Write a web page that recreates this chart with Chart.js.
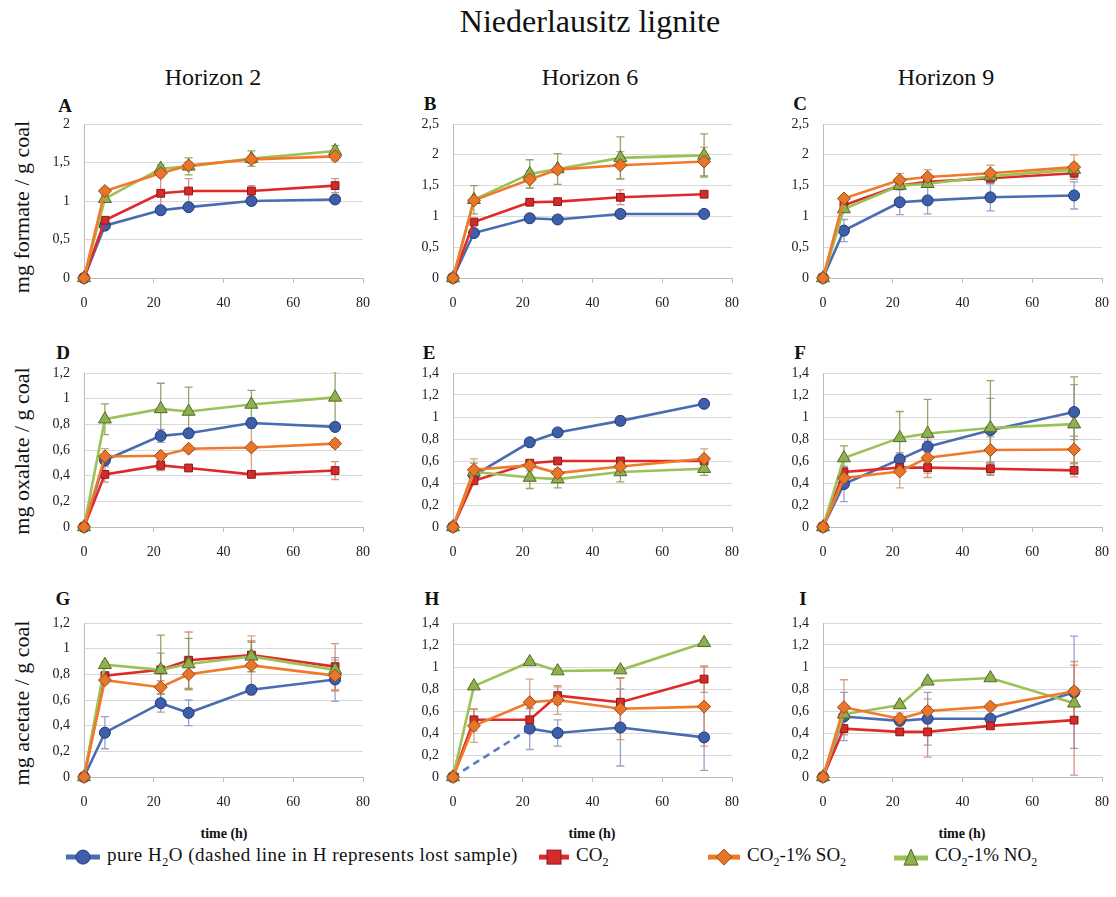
<!DOCTYPE html>
<html><head><meta charset="utf-8">
<script src="https://cdn.jsdelivr.net/npm/chart.js@4.4.0/dist/chart.umd.min.js"></script>
<style>
html,body{margin:0;padding:0;background:#fff;}
#root{position:relative;width:1116px;height:897px;overflow:hidden;font-family:"Liberation Serif",serif;color:#111;}
.t{position:absolute;white-space:nowrap;line-height:1;}
.c{transform:translate(-50%,-50%);}
.rot{transform:translate(-50%,-50%) rotate(-90deg);}
.letter{font-weight:bold;font-size:19px;}
.xt{font-size:14px;font-weight:bold;}
canvas{position:absolute;}
.leg{position:absolute;top:857px;transform:translateY(-50%);font-size:19px;white-space:nowrap;display:flex;align-items:center;}
.leg svg{margin-right:5px;}
.leg sub{font-size:12px;}
</style></head><body>
<div id="root">
  <div class="t c" style="left:590px;top:21px;font-size:32px;">Niederlausitz lignite</div>
  <div class="t c" style="left:213px;top:77px;font-size:24px;">Horizon 2</div>
  <div class="t c" style="left:590px;top:77px;font-size:24px;">Horizon 6</div>
  <div class="t c" style="left:946px;top:77px;font-size:24px;">Horizon 9</div>

  <div class="t rot" style="left:22px;top:207px;font-size:22px;">mg formate / g coal</div>
  <div class="t rot" style="left:22px;top:451px;font-size:22px;">mg oxalate / g coal</div>
  <div class="t rot" style="left:22px;top:703px;font-size:22px;">mg acetate / g coal</div>

  <div class="t c letter" style="left:65px;top:105px;">A</div>
  <div class="t c letter" style="left:430px;top:103px;">B</div>
  <div class="t c letter" style="left:800px;top:103px;">C</div>
  <div class="t c letter" style="left:63px;top:352px;">D</div>
  <div class="t c letter" style="left:429px;top:352px;">E</div>
  <div class="t c letter" style="left:800px;top:352px;">F</div>
  <div class="t c letter" style="left:63px;top:598px;">G</div>
  <div class="t c letter" style="left:432px;top:598px;">H</div>
  <div class="t c letter" style="left:803px;top:598px;">I</div>

  <div class="t c xt" style="left:224px;top:834px;">time (h)</div>
  <div class="t c xt" style="left:592px;top:834px;">time (h)</div>
  <div class="t c xt" style="left:962px;top:834px;">time (h)</div>

  <div class="leg" style="left:64px;"><svg width="38" height="20"><line x1="2" y1="10" x2="36" y2="10" stroke="#4a6cb3" stroke-width="5"/><circle cx="19" cy="10" r="7" fill="#3d5ea8" stroke="#233a73" stroke-width="1"/></svg><span style="letter-spacing:0.5px">pure H<sub>2</sub>O (dashed line in H represents lost sample)</span></div>
  <div class="leg" style="left:537px;"><svg width="34" height="20"><line x1="2" y1="10" x2="32" y2="10" stroke="#e02a2a" stroke-width="5"/><rect x="10" y="3" width="14" height="14" fill="#d42a2a" stroke="#8b1a1a" stroke-width="1"/></svg><span>CO<sub>2</sub></span></div>
  <div class="leg" style="left:706px;"><svg width="36" height="20"><line x1="2" y1="10" x2="34" y2="10" stroke="#f07a2a" stroke-width="5"/><polygon points="18,2 26,10 18,18 10,10" fill="#e8762a" stroke="#9a4a16" stroke-width="1"/></svg><span>CO<sub>2</sub>-1% SO<sub>2</sub></span></div>
  <div class="leg" style="left:892px;"><svg width="38" height="20"><line x1="2" y1="11" x2="36" y2="11" stroke="#9bc157" stroke-width="5"/><polygon points="19,2 26,18 12,18" fill="#8fb04f" stroke="#4e6b26" stroke-width="1"/></svg><span>CO<sub>2</sub>-1% NO<sub>2</sub></span></div>
</div>
<script>
// ---------- data ----------
const times = [0, 6, 22, 30, 48, 72];

// A: formate, Horizon 2
const A_h2o = [0, 0.68, 0.88, 0.92, 1.00, 1.02];
const A_co2 = [0, 0.75, 1.10, 1.13, 1.13, 1.20];
const A_so2 = [0, 1.13, 1.36, 1.46, 1.54, 1.58];
const A_no2 = [0, 1.03, 1.42, 1.45, 1.55, 1.65];
const A_h2oErr = [0, 0.02, 0.03, 0.03, 0.03, 0.03];
const A_co2Err = [0, 0.03, 0.27, 0.16, 0.07, 0.09];
const A_so2Err = [0, 0.04, 0.05, 0.05, 0.05, 0.06];
const A_no2Err = [0, 0.04, 0.05, 0.11, 0.10, 0.07];

// B: formate, Horizon 6
const B_h2o = [0, 0.73, 0.97, 0.95, 1.04, 1.04];
const B_co2 = [0, 0.91, 1.23, 1.24, 1.31, 1.36];
const B_so2 = [0, 1.26, 1.60, 1.76, 1.83, 1.89];
const B_no2 = [0, 1.27, 1.69, 1.77, 1.95, 1.99];
const B_h2oErr = [0, 0.03, 0.05, 0.03, 0.03, 0.03];
const B_co2Err = [0, 0.03, 0.05, 0.04, 0.12, 0.04];
const B_so2Err = [0, 0.05, 0.14, 0.05, 0.22, 0.23];
const B_no2Err = [0, 0.23, 0.23, 0.25, 0.34, 0.35];

// C: formate, Horizon 9
const C_h2o = [0, 0.77, 1.23, 1.26, 1.31, 1.34];
const C_co2 = [0, 1.18, 1.50, 1.56, 1.62, 1.70];
const C_so2 = [0, 1.29, 1.59, 1.64, 1.70, 1.80];
const C_no2 = [0, 1.12, 1.50, 1.53, 1.65, 1.76];
const C_h2oErr = [0, 0.18, 0.20, 0.22, 0.22, 0.22];
const C_co2Err = [0, 0.05, 0.06, 0.06, 0.08, 0.10];
const C_so2Err = [0, 0.05, 0.11, 0.12, 0.13, 0.20];
const C_no2Err = [0, 0.05, 0.06, 0.06, 0.08, 0.10];

// D: oxalate, Horizon 2
const D_h2o = [0, 0.52, 0.71, 0.73, 0.81, 0.78];
const D_co2 = [0, 0.41, 0.48, 0.46, 0.41, 0.44];
const D_so2 = [0, 0.55, 0.555, 0.61, 0.62, 0.65];
const D_no2 = [0, 0.84, 0.92, 0.90, 0.955, 1.01];
const D_h2oErr = [0, 0.02, 0.05, 0.03, 0.04, 0.03];
const D_co2Err = [0, 0.06, 0.04, 0.02, 0.02, 0.07];
const D_so2Err = [0, 0.06, 0.02, 0.02, 0.20, 0.03];
const D_no2Err = [0, 0.12, 0.20, 0.19, 0.11, 0.20];

// E: oxalate, Horizon 6
const E_h2o = [0, 0.47, 0.77, 0.86, 0.965, 1.12];
const E_co2 = [0, 0.42, 0.58, 0.60, 0.60, 0.60];
const E_so2 = [0, 0.52, 0.56, 0.49, 0.55, 0.62];
const E_no2 = [0, 0.50, 0.45, 0.435, 0.50, 0.53];
const E_h2oErr = [0, 0.03, 0.03, 0.03, 0.04, 0.03];
const E_co2Err = [0, 0.03, 0.03, 0.02, 0.02, 0.02];
const E_so2Err = [0, 0.10, 0.05, 0.04, 0.04, 0.09];
const E_no2Err = [0, 0.08, 0.10, 0.08, 0.09, 0.06];

// F: oxalate, Horizon 9
const F_h2o = [0, 0.39, 0.615, 0.73, 0.88, 1.045];
const F_co2 = [0, 0.50, 0.54, 0.54, 0.53, 0.515];
const F_so2 = [0, 0.445, 0.505, 0.63, 0.70, 0.705];
const F_no2 = [0, 0.627, 0.81, 0.85, 0.90, 0.935];
const F_h2oErr = [0, 0.16, 0.06, 0.05, 0.29, 0.25];
const F_co2Err = [0, 0.04, 0.04, 0.05, 0.05, 0.06];
const F_so2Err = [0, 0.05, 0.15, 0.18, 0.12, 0.12];
const F_no2Err = [0, 0.11, 0.24, 0.31, 0.43, 0.43];

// G: acetate, Horizon 2
const G_h2o = [0, 0.345, 0.575, 0.50, 0.68, 0.76];
const G_co2 = [0, 0.79, 0.835, 0.91, 0.95, 0.86];
const G_so2 = [0, 0.755, 0.70, 0.80, 0.87, 0.79];
const G_no2 = [0, 0.875, 0.835, 0.88, 0.94, 0.835];
const G_h2oErr = [0, 0.125, 0.07, 0.10, 0.03, 0.17];
const G_co2Err = [0, 0.02, 0.13, 0.22, 0.10, 0.18];
const G_so2Err = [0, 0.03, 0.05, 0.11, 0.23, 0.12];
const G_no2Err = [0, 0.02, 0.27, 0.20, 0.12, 0.05];

// H: acetate, Horizon 6 (pure H2O sample at 6 h lost)
const H_h2o = [0, null, 0.44, 0.40, 0.45, 0.36];
const H_co2 = [0, 0.52, 0.52, 0.74, 0.68, 0.89];
const H_so2 = [0, 0.465, 0.68, 0.70, 0.62, 0.64];
const H_no2 = [0, 0.826, 1.046, 0.963, 0.972, 1.22];
const H_h2oErr = [0, 0, 0.19, 0.12, 0.35, 0.30];
const H_co2Err = [0, 0.10, 0.10, 0.08, 0.22, 0.12];
const H_so2Err = [0, 0.15, 0.21, 0.13, 0.28, 0.36];
const H_no2Err = [0, 0.02, 0.02, 0.02, 0.02, 0.02];

// I: acetate, Horizon 9
const I_h2o = [0, 0.55, 0.51, 0.53, 0.53, 0.77];
const I_co2 = [0, 0.44, 0.41, 0.41, 0.465, 0.517];
const I_so2 = [0, 0.634, 0.53, 0.60, 0.64, 0.78];
const I_no2 = [0, 0.57, 0.655, 0.87, 0.90, 0.67];
const I_h2oErr = [0, 0.22, 0.03, 0.24, 0.03, 0.51];
const I_co2Err = [0, 0.03, 0.03, 0.23, 0.03, 0.50];
const I_so2Err = [0, 0.25, 0.05, 0.11, 0.03, 0.27];
const I_no2Err = [0, 0.02, 0.02, 0.02, 0.02, 0.02];

const yMaxFormate = [2, 2.5, 2.5];
const yMaxOxalate = [1.2, 1.4, 1.4];
const yMaxAcetate = [1.2, 1.4, 1.4];
const xMax = 80, xStep = 20;

// ---------- styles ----------
const STYLE = {
  h2o: {line:'#4a6cb3', fill:'#3d5ea8', edge:'#233a73', err:'rgba(120,130,190,0.75)', shape:'circle', r:5.5, order:4},
  co2: {line:'#e02a2a', fill:'#d42a2a', edge:'#8b1a1a', err:'rgba(200,110,100,0.75)', shape:'rect', r:5.5, order:3},
  so2: {line:'#f07a2a', fill:'#e8762a', edge:'#9a4a16', err:'rgba(200,140,100,0.8)', shape:'rectRot', r:6.5, order:1},
  no2: {line:'#9bc157', fill:'#8fb04f', edge:'#4e6b26', err:'rgba(130,150,80,0.85)', shape:'triangle', r:7.5, order:2}
};

const errorBars = {
  id: 'errorBars',
  beforeDatasetsDraw(chart) {
    const {ctx, chartArea} = chart;
    const xs = chart.scales.x, ys = chart.scales.y;
    ctx.save();
    ctx.beginPath();
    ctx.rect(chartArea.left - 10, chartArea.top - 1, chartArea.right - chartArea.left + 20, chartArea.bottom - chartArea.top + 2);
    ctx.clip();
    chart.data.datasets.forEach(ds => {
      if (!ds.errors) return;
      ctx.strokeStyle = ds.errorColor;
      ctx.lineWidth = 1.3;
      ds.data.forEach((p, i) => {
        const e = ds.errors[i];
        if (p.y == null || !e) return;
        const x = xs.getPixelForValue(p.x);
        const y1 = ys.getPixelForValue(p.y + e);
        const y2 = ys.getPixelForValue(p.y - e);
        ctx.beginPath();
        ctx.moveTo(x, y1); ctx.lineTo(x, y2);
        ctx.moveTo(x - 4, y1); ctx.lineTo(x + 4, y1);
        ctx.moveTo(x - 4, y2); ctx.lineTo(x + 4, y2);
        ctx.stroke();
      });
    });
    ctx.restore();
  }
};

function makeDs(kind, vals, errs) {
  const s = STYLE[kind];
  // a segment that bridges a missing (lost) sample is drawn dashed
  const bridges = ctx => vals[ctx.p0DataIndex] == null || ctx.p1DataIndex - ctx.p0DataIndex > 1;
  return {
    data: times.map((t, i) => ({x: t, y: vals[i]})),
    errors: errs, errorColor: s.err,
    borderColor: s.line, backgroundColor: s.fill,
    pointBackgroundColor: s.fill, pointBorderColor: s.edge, pointBorderWidth: 1,
    pointStyle: s.shape, pointRadius: s.r, borderWidth: 2.6,
    order: s.order, spanGaps: true, tension: 0, clip: false,
    segment: {
      borderDash: ctx => (bridges(ctx) ? [7, 5] : undefined),
      borderColor: ctx => (bridges(ctx) ? '#5a7cc0' : undefined)
    }
  };
}

const fmt = v => String(Math.round(v * 10) / 10).replace('.', ',');
const root = document.getElementById('root');
const yW = 50, padT = 12, padR = 20, xH = 34;
const colLeft = [84, 453, 823], plotW = 279;
const rowTop = [124, 373, 623], plotH = 154;

function panel(col, row, yMax, sets) {
  const w = yW + plotW + padR, h = padT + plotH + xH;
  const c = document.createElement('canvas');
  c.width = w; c.height = h;
  c.style.left = (colLeft[col] - yW) + 'px';
  c.style.top = (rowTop[row] - padT) + 'px';
  c.style.width = w + 'px'; c.style.height = h + 'px';
  root.appendChild(c);
  new Chart(c, {
    type: 'line',
    data: {datasets: sets},
    plugins: [errorBars],
    options: {
      responsive: false, animation: false, devicePixelRatio: 1,
      layout: {padding: {top: padT, right: padR, left: 0, bottom: 0}},
      plugins: {legend: {display: false}, tooltip: {enabled: false}},
      scales: {
        x: {
          type: 'linear', min: 0, max: xMax,
          afterFit: s => { s.height = xH; s.paddingLeft = 0; s.paddingRight = 0; },
          ticks: {stepSize: xStep, font: {family: 'Liberation Serif', size: 14}, color: '#222', padding: 12, maxRotation: 0},
          grid: {drawOnChartArea: false, drawTicks: true, tickLength: 5, color: '#bdbdbd'},
          border: {display: true, color: '#bdbdbd'}
        },
        y: {
          min: 0, max: yMax,
          afterFit: s => { s.width = yW; s.paddingTop = 0; s.paddingBottom = 0; },
          ticks: {stepSize: yMax > 1.5 ? 0.5 : 0.2, callback: fmt, font: {family: 'Liberation Serif', size: 14}, color: '#222', padding: 14},
          grid: {color: '#d9d9d9', drawTicks: false},
          border: {display: true, color: '#bdbdbd'}
        }
      }
    }
  });
}

panel(0, 0, yMaxFormate[0], [makeDs('h2o', A_h2o, A_h2oErr), makeDs('co2', A_co2, A_co2Err), makeDs('so2', A_so2, A_so2Err), makeDs('no2', A_no2, A_no2Err)]);
panel(1, 0, yMaxFormate[1], [makeDs('h2o', B_h2o, B_h2oErr), makeDs('co2', B_co2, B_co2Err), makeDs('so2', B_so2, B_so2Err), makeDs('no2', B_no2, B_no2Err)]);
panel(2, 0, yMaxFormate[2], [makeDs('h2o', C_h2o, C_h2oErr), makeDs('co2', C_co2, C_co2Err), makeDs('so2', C_so2, C_so2Err), makeDs('no2', C_no2, C_no2Err)]);
panel(0, 1, yMaxOxalate[0], [makeDs('h2o', D_h2o, D_h2oErr), makeDs('co2', D_co2, D_co2Err), makeDs('so2', D_so2, D_so2Err), makeDs('no2', D_no2, D_no2Err)]);
panel(1, 1, yMaxOxalate[1], [makeDs('h2o', E_h2o, E_h2oErr), makeDs('co2', E_co2, E_co2Err), makeDs('so2', E_so2, E_so2Err), makeDs('no2', E_no2, E_no2Err)]);
panel(2, 1, yMaxOxalate[2], [makeDs('h2o', F_h2o, F_h2oErr), makeDs('co2', F_co2, F_co2Err), makeDs('so2', F_so2, F_so2Err), makeDs('no2', F_no2, F_no2Err)]);
panel(0, 2, yMaxAcetate[0], [makeDs('h2o', G_h2o, G_h2oErr), makeDs('co2', G_co2, G_co2Err), makeDs('so2', G_so2, G_so2Err), makeDs('no2', G_no2, G_no2Err)]);
panel(1, 2, yMaxAcetate[1], [makeDs('h2o', H_h2o, H_h2oErr), makeDs('co2', H_co2, H_co2Err), makeDs('so2', H_so2, H_so2Err), makeDs('no2', H_no2, H_no2Err)]);
panel(2, 2, yMaxAcetate[2], [makeDs('h2o', I_h2o, I_h2oErr), makeDs('co2', I_co2, I_co2Err), makeDs('so2', I_so2, I_so2Err), makeDs('no2', I_no2, I_no2Err)]);
</script>
</body></html>
